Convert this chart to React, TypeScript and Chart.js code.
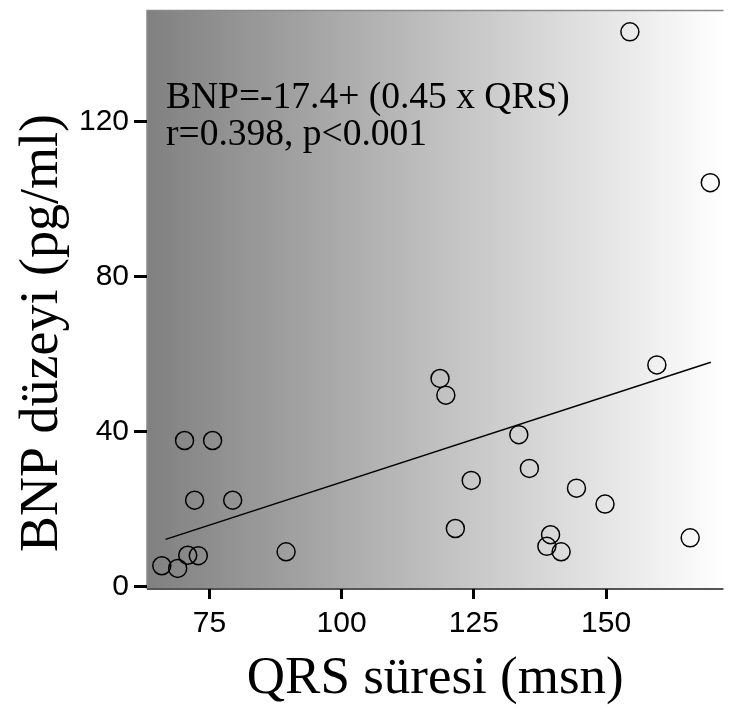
import React, { useEffect, useRef } from "react";
import { Chart, registerables } from "chart.js";

Chart.register(...registerables);

const qrsValues = [154.5, 169.7, 159.6, 118.6, 119.7, 70.3, 75.6, 133.5, 135.5, 124.5, 144.4, 149.8, 72.2, 79.4, 121.5, 139.5, 138.8, 141.5, 165.9, 89.5, 70.9, 72.9, 66.0, 69.0];
const bnpValues = [143.1, 104.2, 57.2, 53.7, 49.4, 37.7, 37.7, 39.2, 30.5, 27.4, 25.4, 21.3, 22.3, 22.3, 15.0, 13.4, 10.4, 9.0, 12.6, 9.0, 8.1, 8.0, 5.4, 4.7];
const fitQrs = [66.7, 169.8];
const fitBnp = [12.2, 57.9];
const xTicks = [75, 100, 125, 150];
const yTicks = [0, 40, 80, 120];
const xTitle = "QRS süresi (msn)";
const yTitle = "BNP düzeyi (pg/ml)";
const annotationLines = ["BNP=-17.4+ (0.45 x QRS)", "r=0.398, p<0.001"];

const decorPlugin = {
  id: "decor",
  beforeDraw(chart: any) {
    const { ctx, chartArea } = chart;
    const { left, right, top, bottom } = chartArea;
    ctx.save();
    const g = ctx.createLinearGradient(left, 0, right, 0);
    g.addColorStop(0, "rgb(128,128,128)");
    g.addColorStop(1, "rgb(255,255,255)");
    ctx.fillStyle = g;
    ctx.fillRect(left, top, right - left, bottom - top);
    ctx.strokeStyle = "#8a8a8a";
    ctx.lineWidth = 1.5;
    ctx.beginPath();
    ctx.moveTo(left, bottom);
    ctx.lineTo(left, top);
    ctx.lineTo(right, top);
    ctx.stroke();
    ctx.strokeStyle = "#555";
    ctx.lineWidth = 2;
    ctx.beginPath();
    ctx.moveTo(left, bottom);
    ctx.lineTo(right, bottom);
    ctx.stroke();
    ctx.restore();
  },
  afterDraw(chart: any) {
    const { ctx, chartArea } = chart;
    const { left, right, top } = chartArea;
    ctx.save();
    ctx.fillStyle = "#000";
    ctx.font = '37.5px "Liberation Serif"';
    ctx.textAlign = "left";
    ctx.textBaseline = "alphabetic";
    ctx.fillText(annotationLines[0], left + 19, top + 97);
    ctx.fillText(annotationLines[1], left + 19, top + 134);
    ctx.font = '53px "Liberation Serif"';
    ctx.textAlign = "center";
    ctx.fillText(xTitle, (left + right) / 2, 693);
    ctx.font = '54px "Liberation Serif"';
    ctx.translate(57, 333);
    ctx.rotate(-Math.PI / 2);
    ctx.fillText(yTitle, 0, 0);
    ctx.restore();
  },
};

export default function App() {
  const ref = useRef<HTMLCanvasElement | null>(null);
  useEffect(() => {
    document.body.style.margin = "0";
    const canvas = ref.current;
    if (!canvas) return;
    const points = qrsValues.map((x, i) => ({ x, y: bnpValues[i] }));
    const fit = fitQrs.map((x, i) => ({ x, y: fitBnp[i] }));
    const chart = new Chart(canvas, {
      type: "scatter",
      data: {
        datasets: [
          {
            data: points,
            pointRadius: 9,
            pointHoverRadius: 9,
            pointBorderColor: "#000",
            pointBackgroundColor: "rgba(0,0,0,0)",
            pointBorderWidth: 1.5,
            showLine: false,
          } as any,
          {
            type: "line",
            data: fit,
            borderColor: "#000",
            borderWidth: 1.5,
            pointRadius: 0,
            showLine: true,
            fill: false,
          } as any,
        ],
      },
      options: {
        animation: false,
        responsive: false,
        devicePixelRatio: 1,
        layout: { padding: { left: 0, top: 5, right: 7, bottom: 0 } },
        plugins: { legend: { display: false }, tooltip: { enabled: false } },
        scales: {
          x: {
            type: "linear",
            min: 63.2,
            max: 172.2,
            afterBuildTicks: (s: any) => {
              s.ticks = xTicks.map((v) => ({ value: v }));
            },
            afterFit: (s: any) => {
              s.height = 713 - 589;
              s.paddingLeft = 0;
              s.paddingRight = 0;
            },
            ticks: {
              color: "#000",
              font: { family: "Liberation Sans", size: 30 },
              padding: 7,
              maxRotation: 0,
            },
            grid: {
              display: true,
              drawOnChartArea: false,
              drawTicks: true,
              tickLength: 10,
              color: "#000",
              lineWidth: 3,
            },
            border: { display: false },
          },
          y: {
            type: "linear",
            min: -0.6,
            max: 148.6,
            afterBuildTicks: (s: any) => {
              s.ticks = yTicks.map((v) => ({ value: v }));
            },
            afterFit: (s: any) => {
              s.width = 147;
              s.paddingTop = 0;
              s.paddingBottom = 0;
            },
            ticks: {
              color: "#000",
              font: { family: "Liberation Sans", size: 30 },
              padding: 5,
            },
            grid: {
              display: true,
              drawOnChartArea: false,
              drawTicks: true,
              tickLength: 13,
              color: "#000",
              lineWidth: 3,
            },
            border: { display: false },
          },
        },
      },
      plugins: [decorPlugin],
    });
    return () => chart.destroy();
  }, []);
  return (
    <div style={{ position: "absolute", left: 0, top: 0, width: 734, height: 713, background: "#fff" }}>
      <canvas ref={ref} width={734} height={713} style={{ display: "block", width: 734, height: 713 }} />
    </div>
  );
}
